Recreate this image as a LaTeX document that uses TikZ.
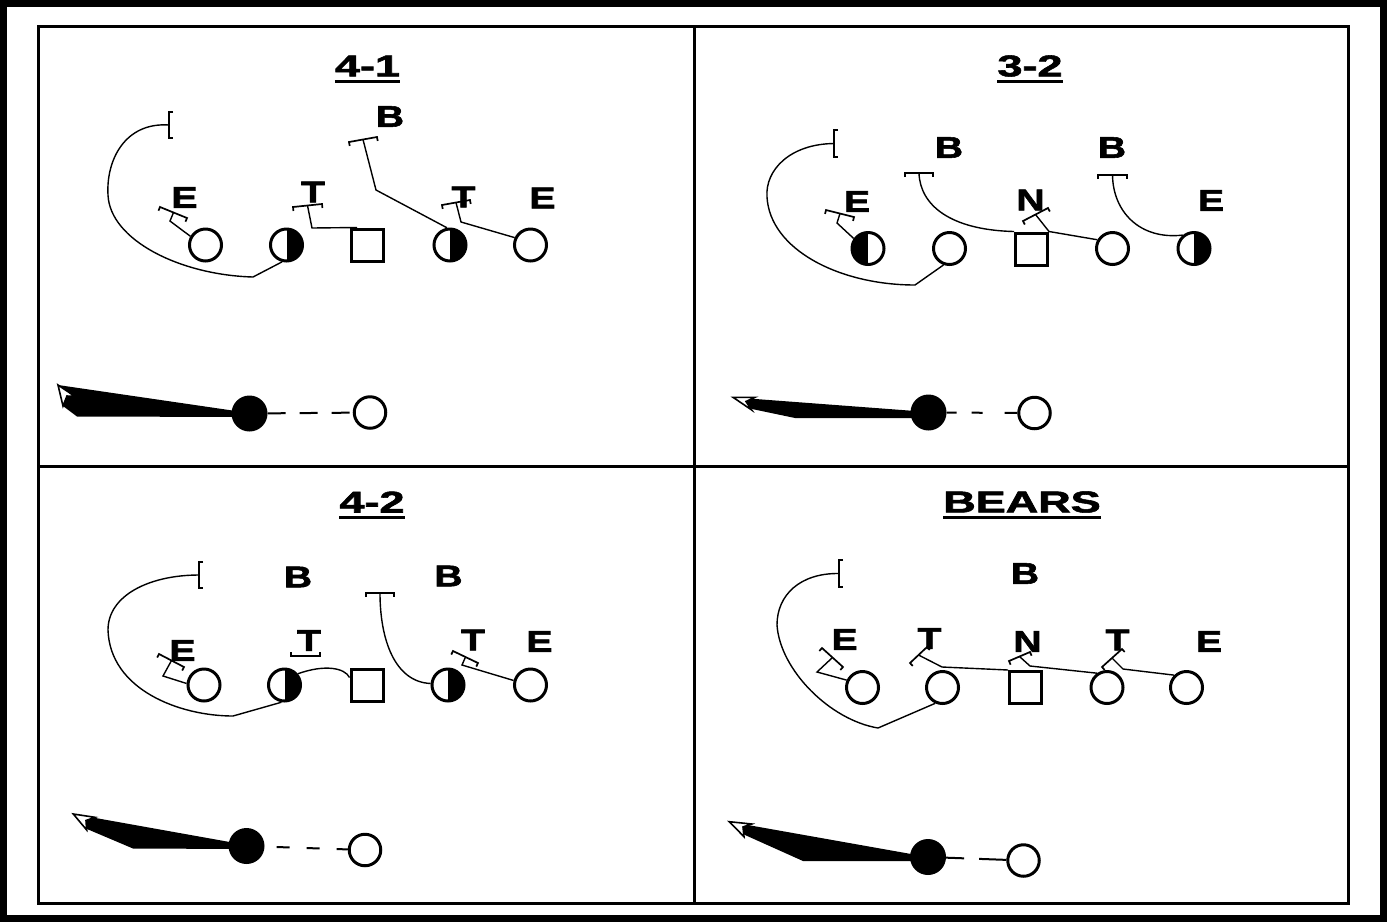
\documentclass[tikz,border=0pt]{standalone}
\usepackage{fontspec}
\setmainfont{Liberation Sans}
\newfontfamily\hvfont[FakeBold=1.8]{Liberation Sans Bold}
\usetikzlibrary{calc}
\newcommand\lab[1]{\scalebox{1.3}[1]{#1}}
\newcommand\tit[1]{\scalebox{1.5}[1]{#1}}
\newcommand\blockbar[5]{%
  \coordinate (#1-a) at (#2);
  \coordinate (#1-b) at (#3);
  \coordinate (#1) at ($(#1-a)!0.5!(#1-b)$);
  \draw[blk] ($(#1-a)!4pt!#4:(#1-b)$) -- (#1-a) -- (#1-b) -- ($(#1-b)!4pt!#5:(#1-a)$);}
\tikzset{
  pl/.style={circle, draw, line width=3pt, minimum size=32pt, inner sep=0pt, fill=white},
  plR/.style={pl, path picture={\fill[black] (path picture bounding box.north) rectangle (path picture bounding box.south east);}},
  plL/.style={pl, path picture={\fill[black] (path picture bounding box.north west) rectangle (path picture bounding box.south);}},
  ctr/.style={rectangle, draw, line width=3pt, minimum size=32pt, inner sep=0pt, fill=white},
  lbl/.style={font=\fontsize{30}{30}\hvfont, inner sep=0pt},
  ttl/.style={font=\fontsize{30}{30}\hvfont, inner sep=0pt},
  uline/.style={line width=3pt},
  rte/.style={line width=1.4pt},
  blk/.style={line width=1.7pt},
  ball/.style={circle, fill=black, minimum size=36pt, inner sep=0pt},
  qb/.style={circle, draw, line width=3pt, minimum size=31.5pt, inner sep=0pt, fill=white},
  wedge/.style={fill=black},
  head/.style={fill=white, draw=black, line width=1.6pt, line join=miter},
  snap/.style={line width=2pt},
  frame/.style={line width=3.5pt}
}
\begin{document}
\begin{tikzpicture}[x=1pt,y=-1pt]
\useasboundingbox (0,0) rectangle (1387,922);
\fill[white] (0,0) rectangle (1387,922);
% frames
\draw[line width=7pt] (3.5,3.5) rectangle (1383.5,918.5);
\draw[frame] (38.5,26.5) rectangle (1348.5,903.5);
\draw[frame] (694.5,26.5) -- (694.5,903.5);
\draw[frame] (38.5,466.5) -- (1348.5,466.5);

% ================= Q1 : 4-1
\node[ttl] (t1) at (367.5,66) {\tit{4-1}};
\draw[uline] ([yshift=-5pt]t1.south west) -- ([yshift=-5pt]t1.south east);
\node[pl]  (a1) at (205.5,245) {};
\node[plR] (a2) at (286.5,245) {};
\node[ctr] (a3) at (367.5,245) {};
\node[plR] (a4) at (450,245) {};
\node[pl]  (a5) at (530.5,245) {};
\node[lbl] (a1l) at (184.5,197.5) {\lab{E}};
\node[lbl] (a2l) at (313,192) {\lab{T}};
\node[lbl] (a3l) at (390,116.5) {\lab{B}};
\node[lbl] (a4l) at (463.5,197) {\lab{T}};
\node[lbl] (a5l) at (542.5,198) {\lab{E}};
\blockbar{a0}{169,112}{169,138}{90}{-90}
\draw[rte] (a0) .. controls (125,122) and (106,160) .. (108,195)
  .. controls (110,240) and (180,275) .. (253,277) -- (a2.255);
\blockbar{a1b}{160,207}{187,218}{-90}{90}
\draw[rte] (a1b) -- (170,221) -- (a1.150);
\blockbar{a2b}{293,207}{322,204}{-90}{90}
\draw[rte] (a2b) -- (312,228) -- ([xshift=7pt]a3.north west);
\blockbar{a3b}{349,142}{377,137}{-90}{90}
\draw[rte] (a3b) -- (376,190) -- (a4.100);
\blockbar{a4b}{442,205}{470,200}{-90}{90}
\draw[rte] (a4b) -- (461,222) -- (a5.155);
% run
\node[ball] (a6) at (249.5,413.5) {};
\node[qb] (a7) at (370,412.5) {};
\fill[wedge] (58,385) -- (249.5,413) -- (249.5,417) -- (77,416.5) -- (63,406) -- cycle;
\draw[head] (75,396.5) -- (58,385) -- (63,406) -- (67,396) -- cycle;
\draw[snap, dash pattern=on 18pt off 14pt] (a6) -- (a7);

% ================= Q2 : 3-2
\node[ttl] (t2) at (1030,66) {\tit{3-2}};
\draw[uline] ([yshift=-5pt]t2.south west) -- ([yshift=-5pt]t2.south east);
\node[plL] (b1) at (868,248.5) {};
\node[pl]  (b2) at (949.5,248.5) {};
\node[ctr] (b3) at (1031.5,249) {};
\node[pl]  (b4) at (1112.5,248.5) {};
\node[plR] (b5) at (1194,248.5) {};
\node[lbl] (b2l) at (949,147.5) {\lab{B}};
\node[lbl] (b4l) at (1112,147.5) {\lab{B}};
\node[lbl] (b1l) at (857,201.5) {\lab{E}};
\node[lbl] (b3l) at (1030.5,200) {\lab{N}};
\node[lbl] (b5l) at (1211,200.5) {\lab{E}};
\blockbar{b0}{834,130}{834,157}{90}{-90}
\draw[rte] (b0) .. controls (790,144) and (765,170) .. (767,197)
  .. controls (770,250) and (840,285) .. (915,285) -- (b2.250);
\blockbar{b1b}{826,210}{854,217}{-90}{90}
\draw[rte] (b1b) -- (837,223) -- (b1.145);
\blockbar{b2b}{905,173}{933,173}{-90}{90}
\draw[rte] (b2b) .. controls (920,205) and (950,230) .. (b3.north west);
\blockbar{b3b}{1023,221}{1048,208}{-90}{90}
\draw[rte] (b3b) -- (b3.north east) -- (b4.150);
\blockbar{b4b}{1098,175}{1127,175}{-90}{90}
\draw[rte] (b4b) .. controls (1113,212) and (1140,240) .. (b5.130);
% run
\node[ball] (b6) at (928.5,412.5) {};
\node[qb] (b7) at (1034.5,413) {};
\fill[wedge] (733,397.3) -- (928.5,412) -- (928.5,418) -- (795,418) -- (752,409) -- cycle;
\draw[head] (755,397.3) -- (733,397.3) -- (751.7,410) -- (746,401.5) -- cycle;
\draw[snap, dash pattern=on 10pt off 15pt on 11pt off 22pt on 20pt off 10pt] (b6) -- (b7);

% ================= Q3 : 4-2
\node[ttl] (t3) at (372,502) {\tit{4-2}};
\draw[uline] ([yshift=-5pt]t3.south west) -- ([yshift=-5pt]t3.south east);
\node[pl]  (c1) at (204,685) {};
\node[plR] (c2) at (284.5,685) {};
\node[ctr] (c3) at (367,685) {};
\node[plR] (c4) at (448,685) {};
\node[pl]  (c5) at (530.5,685) {};
\node[lbl] (c2l) at (298,577) {\lab{B}};
\node[lbl] (c4l) at (448.5,576) {\lab{B}};
\node[lbl] (c1l) at (182.5,650.5) {\lab{E}};
\node[lbl] (c3l) at (309,640.5) {\lab{T}};
\node[lbl] (c5l) at (473,640) {\lab{T}};
\node[lbl] (c6l) at (539.5,641.5) {\lab{E}};
\blockbar{c0}{199,562}{199,588}{90}{-90}
\draw[rte] (c0) .. controls (150,575) and (108,595) .. (108,630)
  .. controls (110,690) and (180,716) .. (233,716) -- (c2.260);
\blockbar{c1b}{159,654}{184,667}{-90}{90}
\draw[rte] (c1b) -- (163,676) -- (c1.175);
\blockbar{c2b}{291,656}{320,656}{90}{-90}
\draw[rte] (c2.40) .. controls (325,664) and (345,668) .. ([yshift=-10pt]c3.north west);
\blockbar{c4b}{366,593}{394,593}{-90}{90}
\draw[rte] (c4b) .. controls (380,640) and (395,682) .. (c4.175);
\blockbar{c5b}{453,651}{478,663}{-90}{90}
\draw[rte] (c5b) -- (462,665) -- (c5.165);
% run
\node[ball] (c6) at (246.5,846) {};
\node[qb] (c7) at (365,850) {};
\fill[wedge] (73.3,814) -- (246.5,845) -- (246.5,849) -- (133,848.5) -- (87,829) -- cycle;
\draw[head] (95,817.3) -- (73.3,814) -- (86.7,830) -- (86,820.5) -- cycle;
\draw[snap, dash pattern=on 0pt off 12pt on 13pt off 17pt on 13pt off 17pt on 20pt off 10pt] (c6) -- (c7);

% ================= Q4 : BEARS
\node[ttl] (t4) at (1022,502) {\tit{BEARS}};
\draw[uline] ([yshift=-5pt]t4.south west) -- ([yshift=-5pt]t4.south east);
\node[pl]  (d1) at (862.5,687.5) {};
\node[pl]  (d2) at (942.5,687.5) {};
\node[ctr] (d3) at (1025.5,687.5) {};
\node[pl]  (d4) at (1107,687.5) {};
\node[pl]  (d5) at (1186.5,687.5) {};
\node[lbl] (d0l) at (1025,573.5) {\lab{B}};
\node[lbl] (d1l) at (844.5,639.5) {\lab{E}};
\node[lbl] (d2l) at (929.5,638.5) {\lab{T}};
\node[lbl] (d3l) at (1027.5,641.5) {\lab{N}};
\node[lbl] (d4l) at (1117.5,640) {\lab{T}};
\node[lbl] (d5l) at (1209,641.5) {\lab{E}};
\blockbar{d0}{839,560}{839,587}{90}{-90}
\draw[rte] (d0) .. controls (800,573) and (777,595) .. (777,625)
  .. controls (780,670) and (830,720) .. (878,728) -- (d2.245);
\blockbar{d1b}{822,648}{843,667}{-90}{90}
\draw[rte] (d1b) -- (817,672) -- (d1.155);
\blockbar{d2b}{910,663}{927,647}{-90}{90}
\draw[rte] (d2b) -- (942,667) -- (d3.north west);
\blockbar{d3b}{1009,661}{1030,652}{-90}{90}
\draw[rte] (d3b) -- (1030,666) -- (d4.125);
\blockbar{d4b}{1102,667}{1122,649}{-90}{90}
\draw[rte] (d4b) -- (1123,669) -- (d5.135);
% run
\node[ball] (d6) at (928,857) {};
\node[qb] (d7) at (1023.5,860.5) {};
\fill[wedge] (729.3,821.7) -- (928,857) -- (928,861) -- (803,861) -- (745,835) -- cycle;
\draw[head] (751.7,824) -- (729.3,821.7) -- (744,836.7) -- (743,827) -- cycle;
\draw[snap, dash pattern=on 18pt off 15pt on 40pt off 10pt] (d6) -- (d7);
\end{tikzpicture}
\end{document}
